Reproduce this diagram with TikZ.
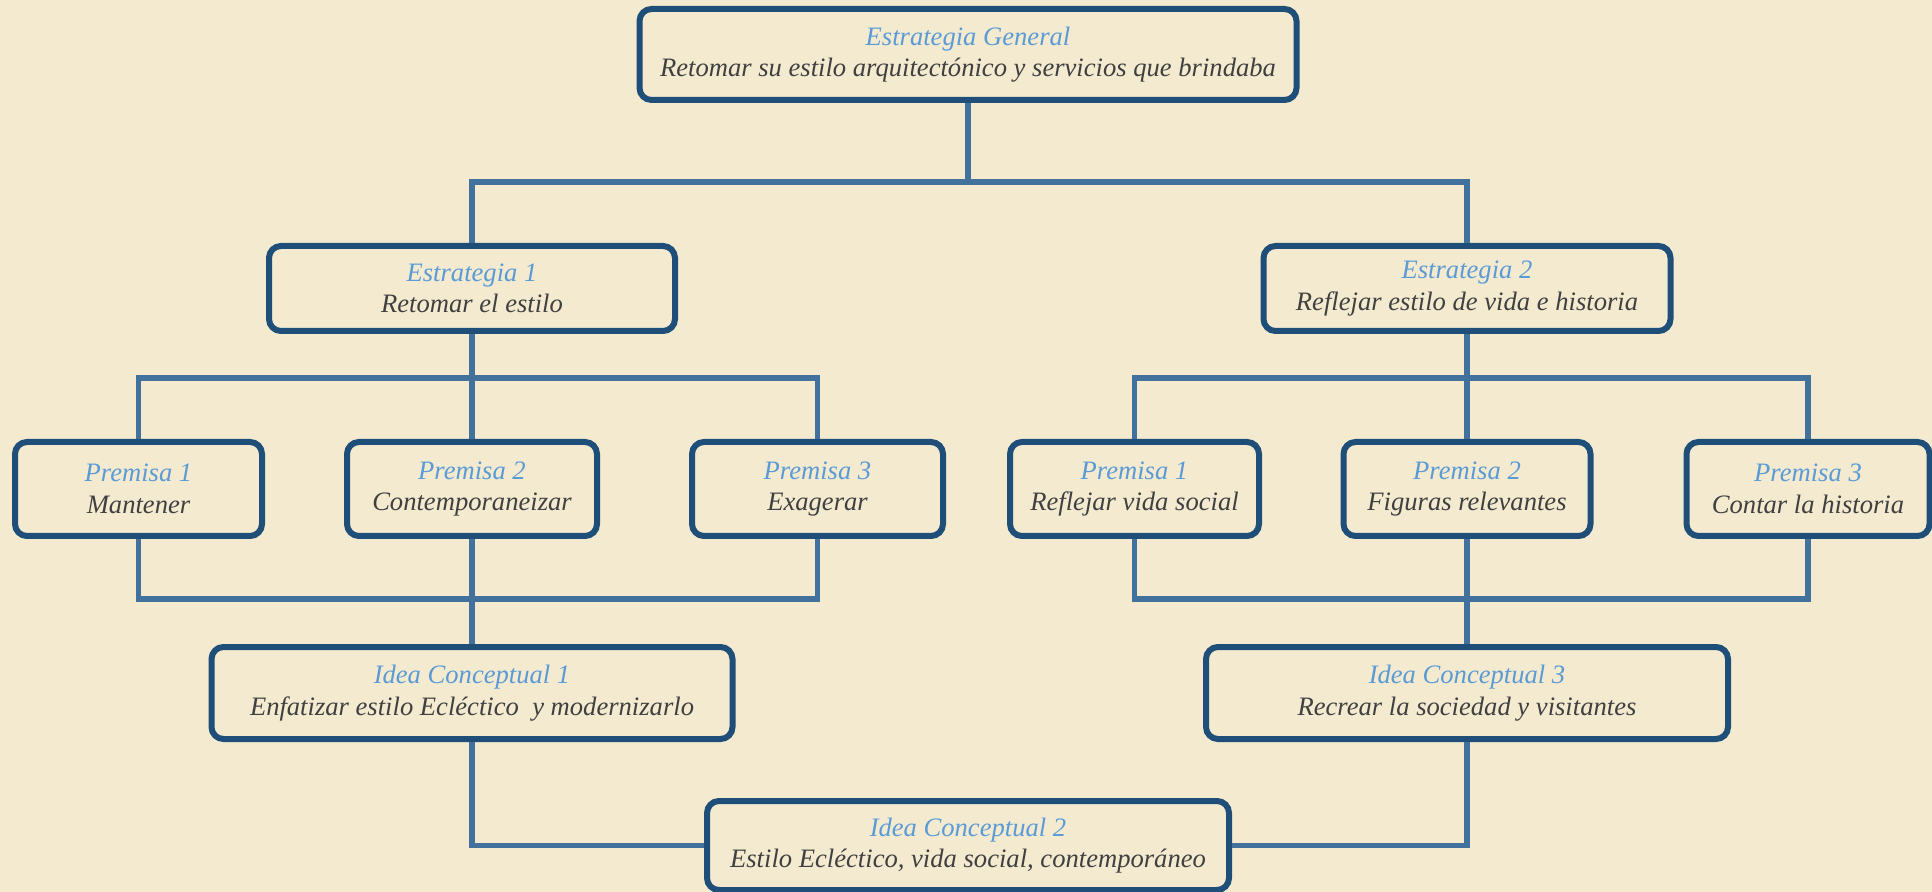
\documentclass[tikz,border=0pt]{standalone}
\usepackage{fontspec}
\setmainfont{Liberation Serif}
\definecolor{bg}{HTML}{F3EAD0}
\definecolor{conn}{HTML}{41719C}
\definecolor{boxc}{HTML}{1F4E79}
\definecolor{ttl}{HTML}{5B9BD5}
\definecolor{bodyc}{HTML}{404040}
\newcommand{\bx}[2]{{\color{ttl}#1}\\{\color{bodyc}#2}}
\tikzset{
  x=0.5pt, y=-0.5pt,
  card/.style={draw=boxc, line width=3pt, rounded corners=6pt, align=center,
    font=\fontsize{13.3}{15.8}\selectfont\itshape, inner sep=0pt},
  conline/.style={draw=conn, line width=2.9pt},
}
\begin{document}
\begin{tikzpicture}
\fill[bg] (0,0) rectangle (1932,892);
\useasboundingbox (0,0) rectangle (1932,892);
% nodes
\node[card, minimum width=328.5pt, minimum height=45.5pt] (gen) at (968,54.5) {\bx{Estrategia General}{Retomar su estilo arquitectónico y servicios que brindaba}};
\node[card, minimum width=203pt, minimum height=42.5pt] (s1) at (472,288.5) {\bx{Estrategia 1}{Retomar el estilo}};
\node[card, minimum width=203.5pt, minimum height=42.5pt] (s2) at (1467,288.5) {\bx{Estrategia 2}{Reflejar estilo de vida e historia}};
\node[card, minimum width=123.5pt, minimum height=47pt] (p1l) at (138.5,489) {\bx{Premisa 1}{Mantener}};
\node[card, minimum width=125pt, minimum height=47pt] (p2l) at (472,489) {\bx{Premisa 2}{Contemporaneizar}};
\node[card, minimum width=125.5pt, minimum height=47pt] (p3l) at (817.5,489) {\bx{Premisa 3}{Exagerar}};
\node[card, minimum width=124.5pt, minimum height=47pt] (p1r) at (1134.5,489) {\bx{Premisa 1}{Reflejar vida social}};
\node[card, minimum width=123.5pt, minimum height=47pt] (p2r) at (1467,489) {\bx{Premisa 2}{Figuras relevantes}};
\node[card, minimum width=121.5pt, minimum height=47pt] (p3r) at (1808,489) {\bx{Premisa 3}{Contar la historia}};
\node[card, minimum width=260.5pt, minimum height=46pt] (i1) at (472,693) {\bx{Idea Conceptual 1}{Enfatizar estilo Ecléctico\ \ y modernizarlo}};
\node[card, minimum width=261pt, minimum height=46pt] (i3) at (1467,693) {\bx{Idea Conceptual 3}{Recrear la sociedad y visitantes}};
\node[card, minimum width=261pt, minimum height=44.5pt] (i2) at (968,845.5) {\bx{Idea Conceptual 2}{Estilo Ecléctico, vida social, contemporáneo}};
% bus coordinates
\coordinate (b0) at (968,182);
\coordinate (bl) at (472,378);
\coordinate (br) at (1467,378);
\coordinate (cl) at (472,599);
\coordinate (cr) at (1467,599);
% connectors
\draw[conline] (gen.south) -- (b0);
\draw[conline] (s1.north) |- (b0) -| (s2.north);
\draw[conline] (s1.south) -- (bl);
\draw[conline] (p1l.north) |- (bl) -| (p3l.north);
\draw[conline] (p2l.north) -- (bl);
\draw[conline] (s2.south) -- (br);
\draw[conline] (p1r.north) |- (br) -| (p3r.north);
\draw[conline] (p2r.north) -- (br);
\draw[conline] (p1l.south) |- (cl) -| (p3l.south);
\draw[conline] (p2l.south) -- (i1.north);
\draw[conline] (p1r.south) |- (cr) -| (p3r.south);
\draw[conline] (p2r.south) -- (i3.north);
\draw[conline] (i1.south) |- (i2.west);
\draw[conline] (i3.south) |- (i2.east);
\end{tikzpicture}
\end{document}
